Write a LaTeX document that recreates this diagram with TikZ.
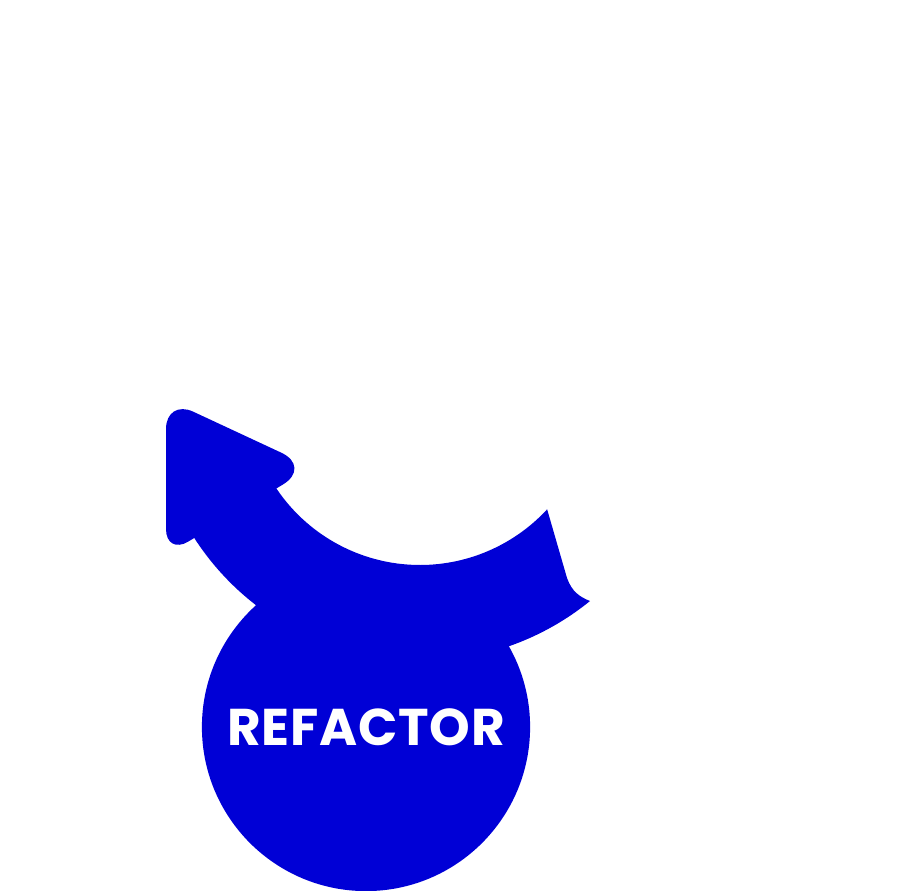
\documentclass[tikz,border=0pt]{standalone}
\usepackage{fontspec}
\newfontfamily\badgefont{Poppins}[LetterSpace=1.5]
\definecolor{royal}{HTML}{0000D6}

\begin{document}
\begin{tikzpicture}[
    x=0.01cm, y=-0.01cm,
    blob/.style={fill=royal, draw=none},
    badge/.style={circle, fill=royal, inner sep=0pt, minimum size=3.28cm,
        text=white, font=\badgefont\bfseries\fontsize{14.7}{17}\selectfont}
]
\useasboundingbox (0,0) rectangle (906,891);

% Arrow head.
\fill[blob] (166,480) [rounded corners=0.3cm] -- (166,399)
    [rounded corners=0.34cm] -- (312,467)
    [rounded corners=0.26cm] -- (166,555) [sharp corners] -- cycle;

% Curved shaft.
\fill[blob] (420,392) ++(150:173) arc[start angle=150, end angle=42.7, radius=173]
    -- (567,578) .. controls (572,592) and (580,597) .. (590,601)
    arc[start angle=50.9, end angle=150, radius=269] -- cycle;

\node[badge] (core) at (366,727) {REFACTOR};
\end{tikzpicture}
\end{document}
